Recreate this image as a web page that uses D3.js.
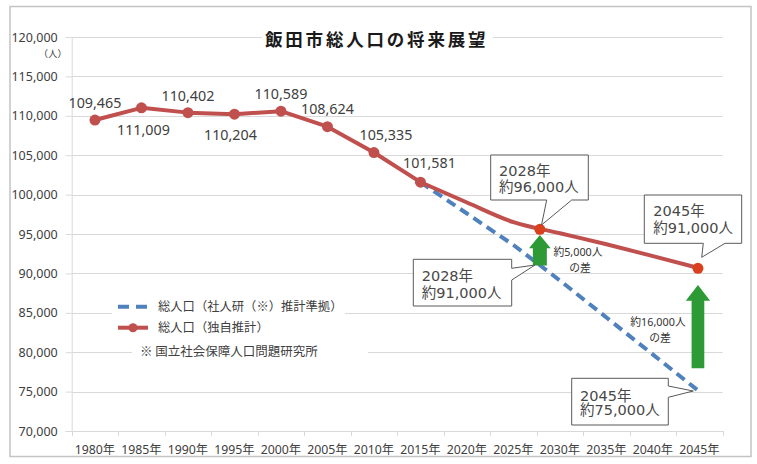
<!DOCTYPE html>
<html>
<head>
<meta charset="utf-8">
<script src="https://cdn.jsdelivr.net/npm/d3@7"></script>
<style>
  html, body { margin: 0; padding: 0; background: #fff; }
  svg { display: block; }
</style>
</head>
<body>
<svg id="chart" width="757" height="464"></svg>
<script>
// ---------------- DATA ----------------
const years = [1980, 1985, 1990, 1995, 2000, 2005, 2010, 2015, 2020, 2025, 2030, 2035, 2040, 2045];
const yearLabels = ["1980年","1985年","1990年","1995年","2000年","2005年","2010年","2015年","2020年","2025年","2030年","2035年","2040年","2045年"];
// 総人口（独自推計）
const ownEstimate = [109465, 111009, 110402, 110204, 110589, 108624, 105335, 101581, 99000, 96500, 95100, 93700, 92200, 90650];
// 総人口（社人研（※）推計準拠）
const ipssEstimate = [null, null, null, null, null, null, null, 101581, 97600, 93600, 89100, 84400, 79700, 75000];
const lastActualIndex = 7; // 2015
const yTicks = [70000, 75000, 80000, 85000, 90000, 95000, 100000, 105000, 110000, 115000, 120000];
const highlightYears = [2028, 2045];
const highlightOwn = [95600, 90650];
const highlightIpss = [91000, 75000];
const calloutOwnText = [["2028年", "約96,000人"], ["2045年", "約91,000人"]];
const calloutIpssText = [["2028年", "約91,000人"], ["2045年", "約75,000人"]];
const diffText = [["約5,000人", "の差"], ["約16,000人", "の差"]];
const titleText = "飯田市総人口の将来展望";
const unitText = "（人）";
const legendLabels = ["総人口（社人研（※）推計準拠）", "総人口（独自推計）"];
const noteText = "※ 国立社会保障人口問題研究所";

// ---------------- DRAW ----------------
(function () {
const svg = d3.select("#chart");
const FONT = "'Noto Sans', 'Noto Sans CJK JP', sans-serif";
const CJK = "'Noto Sans CJK JP', 'Noto Sans', sans-serif";
const CALLFONT = "'DejaVu Sans', 'Noto Sans CJK JP', sans-serif";
const txt = "#404040";
const red = "#c0504d", blue = "#4f81bd", green = "#2e9a35", dotRed = "#d9411e";

svg.append("rect").attr("width", 757).attr("height", 464).attr("fill", "#fff");
svg.append("rect").attr("x", 10).attr("y", 6.5).attr("width", 741).attr("height", 450)
  .attr("fill", "none").attr("stroke", "#c4c4c4").attr("stroke-width", 1.5);

const pLeft = 71.7, pRight = 722.7, pTop = 37, pBottom = 431;
const x = d3.scaleBand().domain(yearLabels).range([pLeft, pRight]).padding(0);
const bw = x.bandwidth();
const xYear = d3.scaleLinear().domain([years[0], years[years.length - 1]])
  .range([x(yearLabels[0]) + bw / 2, x(yearLabels[yearLabels.length - 1]) + bw / 2]);
const y = d3.scaleLinear().domain([70000, 120000]).range([pBottom, pTop]);

// gridlines
svg.append("g").selectAll("line").data(yTicks.slice(1)).join("line")
  .attr("x1", pLeft).attr("x2", pRight)
  .attr("y1", d => Math.round(y(d)) + 0.5).attr("y2", d => Math.round(y(d)) + 0.5)
  .attr("stroke", "#d9d9d9").attr("stroke-width", 1);

// y axis
const yAxis = svg.append("g").attr("transform", `translate(${pLeft},0)`)
  .call(d3.axisLeft(y).tickValues(yTicks).tickSize(6).tickPadding(8).tickFormat(d3.format(",")));
yAxis.select(".domain").attr("stroke", "#d9d9d9");
yAxis.selectAll(".tick line").attr("stroke", "#d9d9d9");
yAxis.selectAll("text").attr("font-family", FONT).attr("font-size", 12.5).attr("fill", txt);

// x axis
const xAxis = svg.append("g").attr("transform", `translate(0,${pBottom})`)
  .call(d3.axisBottom(x).tickSize(0).tickPadding(14));
xAxis.select(".domain").attr("stroke", "#d9d9d9");
xAxis.selectAll("text").attr("font-family", FONT).attr("font-size", 12.3).attr("fill", txt);
xAxis.append("g").selectAll("line").data(yearLabels.concat([null])).join("line")
  .attr("x1", (d, i) => Math.round(pLeft + i * bw) + 0.5)
  .attr("x2", (d, i) => Math.round(pLeft + i * bw) + 0.5)
  .attr("y1", 0).attr("y2", 5).attr("stroke", "#d9d9d9");

// title
svg.append("rect").attr("x", 262).attr("y", 28).attr("width", 231).attr("height", 20).attr("fill", "#fff");
svg.append("text").attr("x", 265).attr("y", 46).text(titleText)
  .attr("font-family", CJK).attr("font-size", 17.5).attr("font-weight", "bold")
  .attr("letter-spacing", 2.8).attr("fill", "#1a1a1a");

// unit
svg.append("text").attr("x", 67).attr("y", 56.5).attr("text-anchor", "end").text(unitText)
  .attr("font-family", CJK).attr("font-size", 9.5).attr("fill", txt);

// blue dashed projection
const ipssPts = years.map((yr, i) => [yr, ipssEstimate[i]]).filter(d => d[1] != null);
svg.append("path").datum(ipssPts)
  .attr("d", d3.line().x(d => xYear(d[0])).y(d => y(d[1])))
  .attr("fill", "none").attr("stroke", blue).attr("stroke-width", 4)
  .attr("stroke-dasharray", "10,6");

// red own estimate
const ownPts = years.map((yr, i) => [yr, ownEstimate[i]]);
svg.append("path").datum(ownPts.slice(0, lastActualIndex + 1))
  .attr("d", d3.line().x(d => xYear(d[0])).y(d => y(d[1])))
  .attr("fill", "none").attr("stroke", red).attr("stroke-width", 4).attr("stroke-linejoin", "round");
svg.append("path").datum(ownPts.slice(lastActualIndex))
  .attr("d", d3.line().curve(d3.curveMonotoneX).x(d => xYear(d[0])).y(d => y(d[1])))
  .attr("fill", "none").attr("stroke", red).attr("stroke-width", 4).attr("stroke-linecap", "round");
svg.append("g").selectAll("circle").data(ownPts.slice(0, lastActualIndex + 1)).join("circle")
  .attr("cx", d => xYear(d[0])).attr("cy", d => y(d[1])).attr("r", 5.5).attr("fill", red);

// data labels (placement offsets)
const labelOffsets = [[0, -17], [2, 22], [0, -17], [-4, 21], [0, -17], [0, -18], [12, -18], [9, -19]];
svg.append("g").selectAll("text").data(ownPts.slice(0, lastActualIndex + 1)).join("text")
  .attr("x", (d, i) => xYear(d[0]) + labelOffsets[i][0])
  .attr("y", (d, i) => y(d[1]) + labelOffsets[i][1] + 5)
  .attr("text-anchor", "middle").text(d => d3.format(",")(d[1]))
  .attr("font-family", FONT).attr("font-size", 14.3).attr("fill", txt);

// green arrows (from IPSS value up toward own estimate)
const arrowSpec = [
  { yr: 2028, from: 91000, to: 94870, head: 21.7, shaft: 14, headLen: 13.3 },
  { yr: 2045, from: 77960, to: 88530, head: 24.3, shaft: 12.7, headLen: 15.7 }
];
arrowSpec.forEach(a => {
  const cx = xYear(a.yr) - 1.5, y0 = y(a.from), y1 = y(a.to);
  const p = d3.path();
  p.moveTo(cx - a.shaft / 2, y0);
  p.lineTo(cx - a.shaft / 2, y1 + a.headLen);
  p.lineTo(cx - a.head / 2, y1 + a.headLen);
  p.lineTo(cx, y1);
  p.lineTo(cx + a.head / 2, y1 + a.headLen);
  p.lineTo(cx + a.shaft / 2, y1 + a.headLen);
  p.lineTo(cx + a.shaft / 2, y0);
  p.closePath();
  svg.append("path").attr("d", p.toString()).attr("fill", green);
});

// highlighted dots
svg.append("g").selectAll("circle").data(highlightYears).join("circle")
  .attr("cx", d => xYear(d) - 1.5).attr("cy", (d, i) => y(highlightOwn[i])).attr("r", 5.5).attr("fill", dotRed);

// diff texts
const diffPos = [[578, 255.5, 271.5], [658, 325.5, 342]];
diffText.forEach((t, i) => {
  svg.append("text").attr("x", diffPos[i][0]).attr("y", diffPos[i][1]).attr("text-anchor", "middle")
    .text(t[0]).attr("font-family", FONT).attr("font-size", 10.8).attr("fill", "#333");
  svg.append("text").attr("x", diffPos[i][0] + 2).attr("y", diffPos[i][2]).attr("text-anchor", "middle")
    .text(t[1]).attr("font-family", CJK).attr("font-size", 10.8).attr("fill", "#333");
});

// callouts
const callouts = [
  { d: "M490.7,155 H588.3 V200 H571.7 L541.5,225 L546.7,200 H490.7 Z", tx: 499, ty: [175.5, 192], text: calloutOwnText[0] },
  { d: "M644.3,195 H741.7 V243.3 H725 L701.7,257.3 L703.3,243.3 H644.3 Z", tx: 653.3, ty: [216.3, 233], text: calloutOwnText[1] },
  { d: "M413.3,259.3 H511.7 V268.3 L535,265 L511.7,280 V306 H413.3 Z", tx: 421.7, ty: [281.3, 297.5], text: calloutIpssText[0] },
  { d: "M571.7,378.3 H668.3 V386 L693.3,391 L668.3,397.3 V425 H571.7 Z", tx: 580, ty: [400.5, 415], text: calloutIpssText[1] }
];
callouts.forEach(c => {
  svg.append("path").attr("d", c.d).attr("fill", "#fff").attr("stroke", "#595959").attr("stroke-width", 1);
  c.text.forEach((s, j) => {
    svg.append("text").attr("x", c.tx).attr("y", c.ty[j]).text(s)
      .attr("font-family", CALLFONT).attr("font-size", 14.5).attr("fill", "#484848");
  });
});

// legend
svg.append("rect").attr("x", 112).attr("y", 293).attr("width", 233).attr("height", 46).attr("fill", "#fff");
svg.append("rect").attr("x", 132).attr("y", 344).attr("width", 236).attr("height", 16).attr("fill", "#fff");
svg.append("line").attr("x1", 118).attr("x2", 148).attr("y1", 306.7).attr("y2", 306.7)
  .attr("stroke", blue).attr("stroke-width", 4).attr("stroke-dasharray", "11,7");
svg.append("line").attr("x1", 118).attr("x2", 148).attr("y1", 327.7).attr("y2", 327.7)
  .attr("stroke", red).attr("stroke-width", 4);
svg.append("circle").attr("cx", 133).attr("cy", 327.7).attr("r", 4.5).attr("fill", red);
legendLabels.forEach((s, i) => {
  svg.append("text").attr("x", 158).attr("y", [311.3, 332.3][i]).text(s)
    .attr("font-family", CJK).attr("font-size", 12.3).attr("fill", txt);
});
svg.append("text").attr("x", 140).attr("y", 356.3).text(noteText)
  .attr("font-family", CJK).attr("font-size", 12.5).attr("fill", txt);
})();
</script>
</body>
</html>
